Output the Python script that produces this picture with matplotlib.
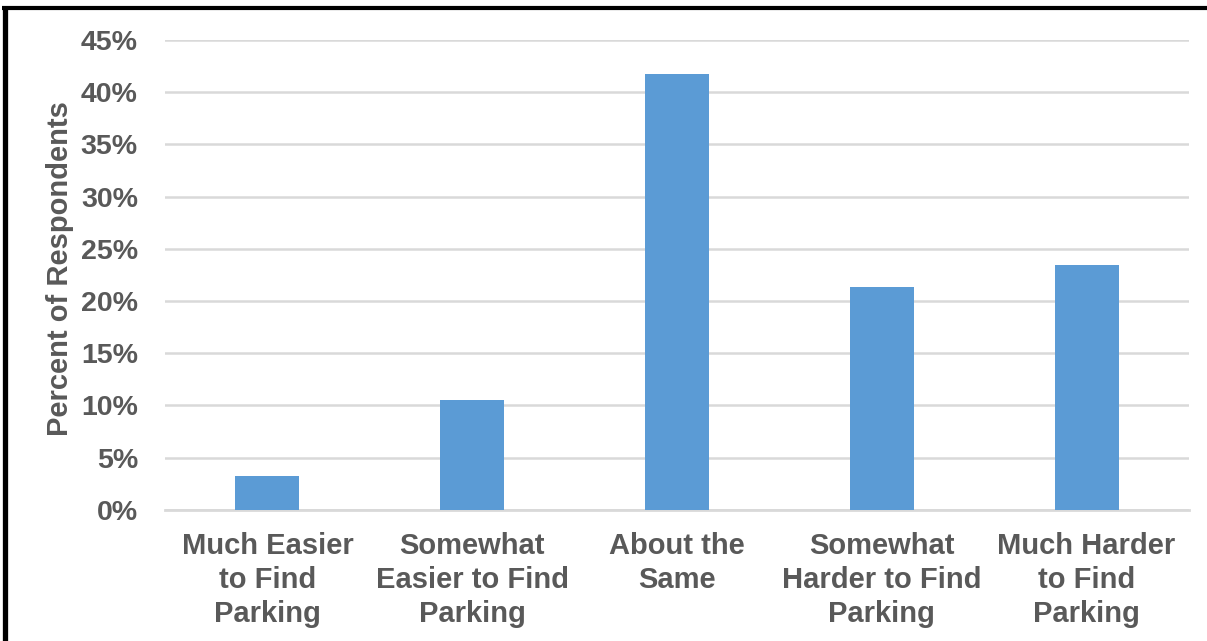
import matplotlib.pyplot as plt
from matplotlib.lines import Line2D
from matplotlib.ticker import FuncFormatter

plt.rcParams["font.family"] = ["Liberation Sans", "DejaVu Sans"]

categories = [
    "Much Easier\nto Find\nParking",
    "Somewhat\nEasier to Find\nParking",
    "About the\nSame",
    "Somewhat\nHarder to Find\nParking",
    "Much Harder\nto Find\nParking",
]
shares = [3.25, 10.5, 41.7, 21.3, 23.4]
y_ticks = [0, 5, 10, 15, 20, 25, 30, 35, 40, 45]

text_color = "#595959"
bar_color = "#5B9BD5"
grid_color = "#D9D9D9"

fig = plt.figure(figsize=(12.07, 6.41), dpi=100)
ax = fig.add_axes([0.1367, 0.2044, 0.8484, 0.7335])

x = range(len(categories))
ax.bar(x, shares, width=0.3125, color=bar_color, zorder=3)

ax.set_xlim(-0.5, len(categories) - 0.5)
ax.set_ylim(0, 45)
ax.set_yticks(y_ticks)
ax.yaxis.set_major_formatter(FuncFormatter(lambda v, _: f"{v:.0f}%"))
ax.set_xticks(list(x))
ax.set_xticklabels(categories, linespacing=1.27)

ax.grid(axis="y", color=grid_color, linewidth=1.8, zorder=0)
ax.set_axisbelow(True)
for side in ["top", "right", "left"]:
    ax.spines[side].set_visible(False)
ax.spines["bottom"].set_color(grid_color)
ax.spines["bottom"].set_linewidth(2)

ax.tick_params(axis="both", length=0, labelcolor=text_color)
ax.tick_params(axis="y", pad=19.5, labelsize=20.5)
ax.tick_params(axis="x", pad=16, labelsize=21)
for lbl in ax.get_xticklabels() + ax.get_yticklabels():
    lbl.set_fontweight("bold")

ax.set_ylabel("Percent of Respondents", fontsize=21, fontweight="bold",
              color=text_color)
ax.yaxis.set_label_coords(-0.089, 0.513)

# frame lines along the left and top of the figure
W, H = 1207, 641
fig.add_artist(Line2D([4.5 / W, 4.5 / W], [0, 1 - 6 / H], transform=fig.transFigure,
                      color="black", linewidth=3.8, solid_capstyle="butt"))
fig.add_artist(Line2D([2 / W, 1], [1 - 8 / H, 1 - 8 / H], transform=fig.transFigure,
                      color="black", linewidth=3.0, solid_capstyle="butt"))

fig.savefig("out.png", dpi=100, facecolor="white")
